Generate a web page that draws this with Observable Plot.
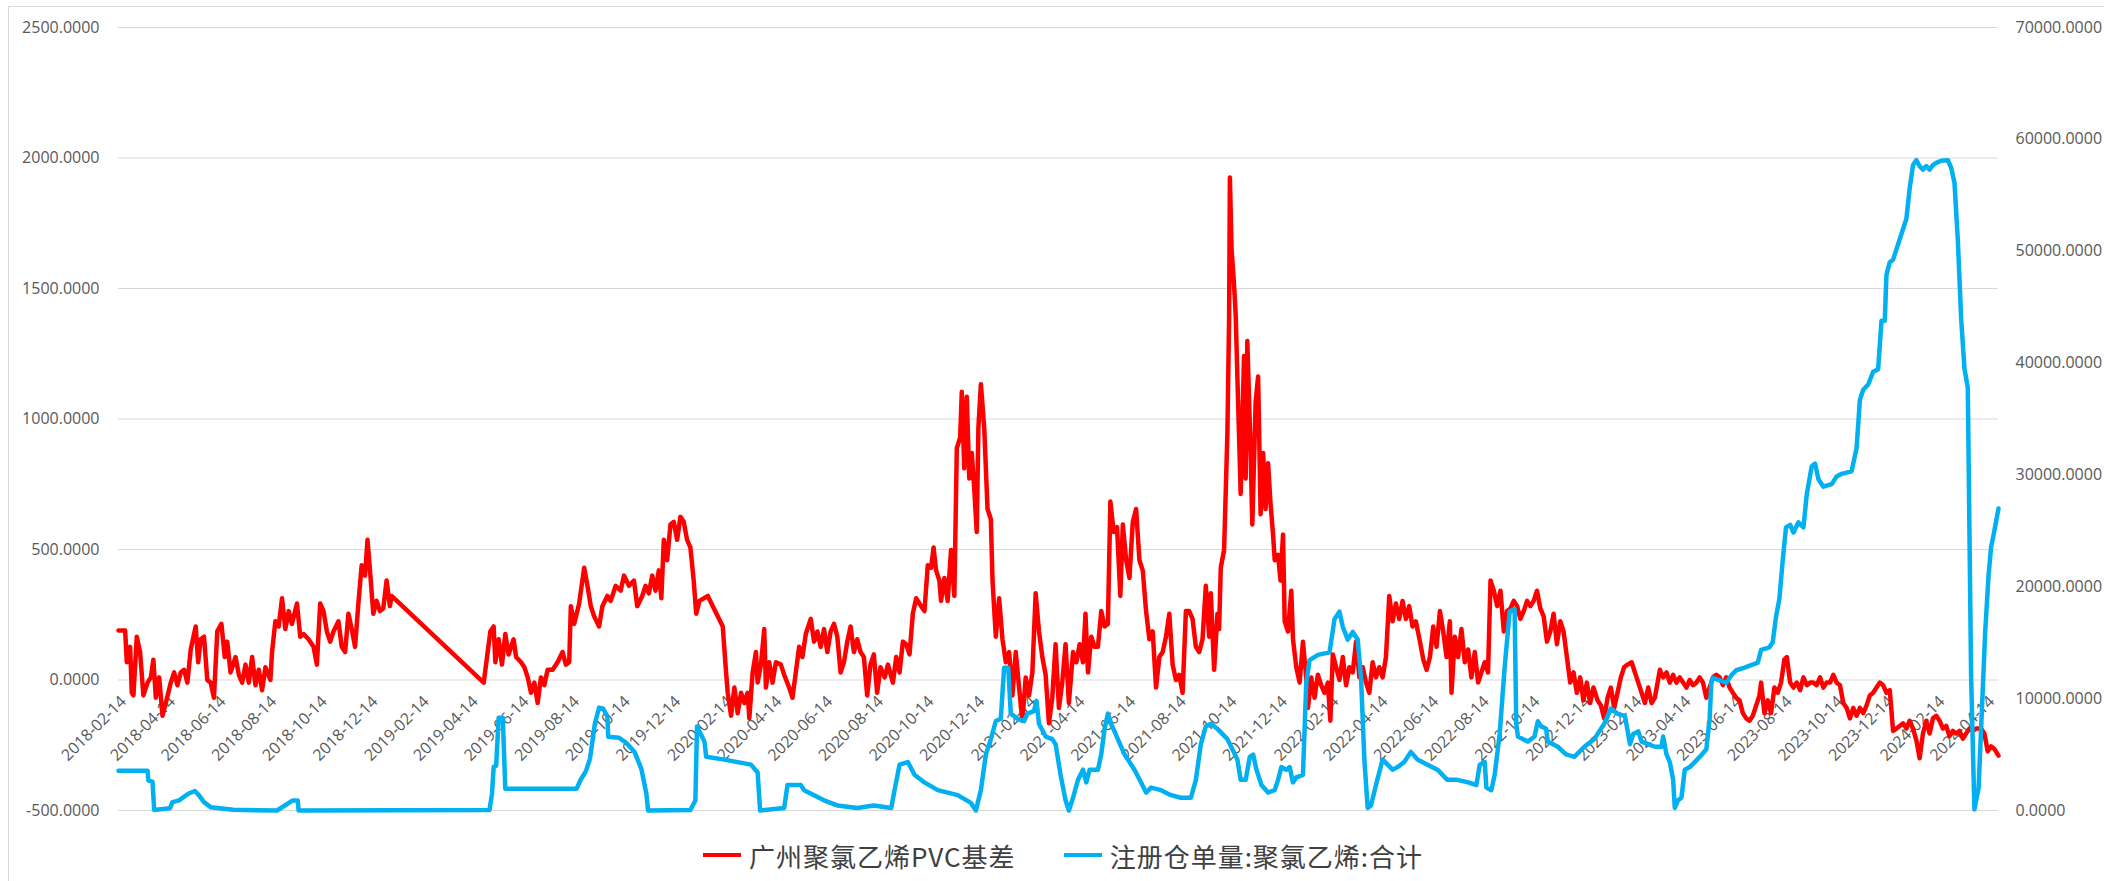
<!DOCTYPE html>
<html><head><meta charset="utf-8">
<script src="https://cdn.jsdelivr.net/npm/d3@7"></script>
<script src="https://cdn.jsdelivr.net/npm/@observablehq/plot@0.6"></script>
<style>
html,body{margin:0;padding:0;background:#fff;overflow:hidden;}
#wrap{position:relative;width:2104px;height:881px;overflow:hidden;}
#frame{position:absolute;left:8px;top:6px;width:2120px;height:900px;border:1px solid #d9d9d9;box-sizing:border-box;}
#chart{position:absolute;left:0;top:0;}
#legend{position:absolute;left:0;top:830px;width:2104px;height:50px;display:flex;align-items:center;justify-content:center;padding-left:22px;box-sizing:border-box;font-family:"Noto Sans CJK SC",sans-serif;font-size:26px;color:#404040;letter-spacing:1px;}
.item{display:flex;align-items:center;margin:0 24px;}
.sw{display:inline-block;width:38px;height:4px;margin-right:8px;}
</style></head>
<body><div id="wrap"><div id="frame"></div><div id="chart"></div>
<div id="legend"></div></div>
<script>
const seriesNames = ["广州聚氯乙烯PVC基差", "注册仓单量:聚氯乙烯:合计"];
const seriesColors = ["#ff0000", "#00b0f0"];
const leftTicks = [-500, 0, 500, 1000, 1500, 2000, 2500];
const rightTicks = [0, 10000, 20000, 30000, 40000, 50000, 60000, 70000];
const xTickLabels = ["2018-02-14","2018-04-14","2018-06-14","2018-08-14","2018-10-14","2018-12-14",
"2019-02-14","2019-04-14","2019-06-14","2019-08-14","2019-10-14","2019-12-14",
"2020-02-14","2020-04-14","2020-06-14","2020-08-14","2020-10-14","2020-12-14",
"2021-02-14","2021-04-14","2021-06-14","2021-08-14","2021-10-14","2021-12-14",
"2022-02-14","2022-04-14","2022-06-14","2022-08-14","2022-10-14","2022-12-14",
"2023-02-14","2023-04-14","2023-06-14","2023-08-14","2023-10-14","2023-12-14",
"2024-02-14","2024-04-14"];

const basisSeries = [["2018-02-14",190],["2018-02-22",190],["2018-02-24",68],["2018-02-28",127],["2018-03-02",-49],["2018-03-04",-59],["2018-03-08",166],["2018-03-12",107],["2018-03-16",-59],["2018-03-21",-10],["2018-03-25",10],["2018-03-28",78],["2018-03-31",-68],["2018-04-04",10],["2018-04-08",-137],["2018-04-12",-88],["2018-04-18",-10],["2018-04-22",29],["2018-04-26",-20],["2018-04-30",29],["2018-05-04",39],["2018-05-08",-10],["2018-05-12",117],["2018-05-18",205],["2018-05-21",68],["2018-05-24",156],["2018-05-28",166],["2018-06-01",0],["2018-06-05",-10],["2018-06-09",-68],["2018-06-13",186],["2018-06-18",215],["2018-06-22",88],["2018-06-25",147],["2018-06-29",29],["2018-07-05",88],["2018-07-09",20],["2018-07-13",-10],["2018-07-17",59],["2018-07-21",-10],["2018-07-25",88],["2018-07-29",-20],["2018-08-02",39],["2018-08-06",-39],["2018-08-10",49],["2018-08-16",0],["2018-08-18",107],["2018-08-22",225],["2018-08-26",205],["2018-08-30",313],["2018-09-03",195],["2018-09-07",264],["2018-09-11",215],["2018-09-17",293],["2018-09-21",166],["2018-09-25",176],["2018-10-01",156],["2018-10-07",127],["2018-10-11",59],["2018-10-15",293],["2018-10-19",264],["2018-10-23",186],["2018-10-27",147],["2018-10-31",186],["2018-11-06",225],["2018-11-10",127],["2018-11-14",107],["2018-11-18",254],["2018-11-22",195],["2018-11-26",127],["2018-11-30",293],["2018-12-04",440],["2018-12-08",400],["2018-12-11",537],["2018-12-14",420],["2018-12-18",254],["2018-12-22",303],["2018-12-26",264],["2018-12-30",274],["2019-01-03",381],["2019-01-07",283],["2019-01-09",322],["2019-04-30",-10],
["2019-05-08",186],["2019-05-12",205],["2019-05-14",68],["2019-05-18",156],["2019-05-22",59],["2019-05-26",176],["2019-05-30",98],["2019-06-05",156],["2019-06-08",88],["2019-06-14",68],["2019-06-18",49],["2019-06-22",10],["2019-06-26",-49],["2019-06-30",-10],["2019-07-04",-88],["2019-07-08",10],["2019-07-12",-20],["2019-07-16",39],["2019-07-22",39],["2019-07-28",68],["2019-08-03",107],["2019-08-07",59],["2019-08-11",68],["2019-08-13",283],["2019-08-17",215],["2019-08-23",293],["2019-08-29",430],["2019-09-02",361],["2019-09-06",283],["2019-09-10",244],["2019-09-16",205],["2019-09-20",283],["2019-09-26",322],["2019-09-30",303],["2019-10-06",361],["2019-10-12",342],["2019-10-16",400],["2019-10-22",361],["2019-10-28",381],["2019-11-01",283],["2019-11-07",322],["2019-11-11",361],["2019-11-15",332],["2019-11-19",400],["2019-11-23",342],["2019-11-27",420],["2019-11-30",313],["2019-12-03",537],["2019-12-07",459],["2019-12-11",596],["2019-12-15",606],["2019-12-19",537],["2019-12-23",625],["2019-12-27",606],["2019-12-31",537],
["2020-01-04",508],["2020-01-08",381],["2020-01-11",254],["2020-01-15",303],["2020-01-25",322],["2020-01-31",283],["2020-02-06",244],["2020-02-12",205],["2020-02-16",29],["2020-02-18",-49],["2020-02-22",-137],["2020-02-26",-29],["2020-03-01",-127],["2020-03-05",-49],["2020-03-09",-88],["2020-03-13",-49],["2020-03-15",-147],["2020-03-19",29],["2020-03-23",107],["2020-03-25",-10],["2020-03-29",59],["2020-04-02",195],["2020-04-04",-29],["2020-04-08",68],["2020-04-12",-10],["2020-04-16",68],["2020-04-22",59],["2020-04-26",20],["2020-05-02",-29],["2020-05-06",-68],["2020-05-10",29],["2020-05-14",127],["2020-05-18",88],["2020-05-22",176],["2020-05-28",234],["2020-06-01",147],["2020-06-05",186],["2020-06-09",127],["2020-06-13",195],["2020-06-17",107],["2020-06-21",186],["2020-06-25",215],["2020-06-29",166],["2020-07-03",29],["2020-07-07",68],["2020-07-11",147],["2020-07-15",205],["2020-07-19",107],["2020-07-23",156],["2020-07-27",107],["2020-07-31",88],["2020-08-04",-59],["2020-08-08",59],["2020-08-12",98],["2020-08-16",-49],["2020-08-20",49],["2020-08-25",10],["2020-08-29",59],["2020-09-04",-10],["2020-09-08",88],["2020-09-12",29],["2020-09-16",147],["2020-09-20",137],["2020-09-24",98],["2020-09-28",254],["2020-10-02",313],["2020-10-08",283],["2020-10-12",264],["2020-10-16",440],["2020-10-20",430],["2020-10-23",508],["2020-10-26",420],["2020-10-30",381],["2020-11-01",303],["2020-11-05",391],["2020-11-09",303],["2020-11-13",498],["2020-11-17",322],["2020-11-20",889],["2020-11-24",928],["2020-11-26",1104],["2020-11-29",811],["2020-12-02",1085],["2020-12-05",772],["2020-12-08",870],["2020-12-11",733],["2020-12-14",567],["2020-12-16",967],["2020-12-19",1133],["2020-12-23",967],["2020-12-27",655],["2020-12-31",616],
["2021-01-02",381],["2021-01-06",166],["2021-01-10",313],["2021-01-14",156],["2021-01-18",68],["2021-01-22",107],["2021-01-26",-59],["2021-01-30",107],["2021-02-03",-29],["2021-02-07",-156],["2021-02-11",10],["2021-02-15",-59],["2021-02-19",29],["2021-02-23",332],["2021-02-27",186],["2021-03-03",88],["2021-03-07",20],["2021-03-11",-166],["2021-03-15",-68],["2021-03-19",137],["2021-03-23",-107],["2021-03-27",-10],["2021-03-31",137],["2021-04-04",-88],["2021-04-09",107],["2021-04-13",68],["2021-04-17",137],["2021-04-21",68],["2021-04-24",254],["2021-04-27",29],["2021-05-01",166],["2021-05-05",127],["2021-05-09",127],["2021-05-13",264],["2021-05-17",205],["2021-05-21",215],["2021-05-24",684],["2021-05-28",567],["2021-06-01",586],["2021-06-05",322],["2021-06-08",596],["2021-06-12",459],["2021-06-16",391],["2021-06-20",606],["2021-06-24",655],["2021-06-28",459],["2021-07-02",420],["2021-07-06",264],["2021-07-10",156],["2021-07-14",186],["2021-07-18",-29],["2021-07-22",88],["2021-07-26",107],["2021-07-30",166],["2021-08-03",254],["2021-08-07",59],["2021-08-11",0],["2021-08-15",20],["2021-08-19",-49],["2021-08-23",264],["2021-08-27",264],["2021-08-31",234],["2021-09-04",127],["2021-09-08",107],["2021-09-12",156],["2021-09-16",361],["2021-09-20",166],["2021-09-22",332],["2021-09-26",39],["2021-09-30",254],["2021-10-02",195],["2021-10-04",430],["2021-10-08",498],["2021-10-12",948],["2021-10-14",1378],["2021-10-15",1925],["2021-10-17",1651],["2021-10-20",1514],["2021-10-22",1397],["2021-10-24",1163],["2021-10-28",713],["2021-11-01",1241],["2021-11-03",772],["2021-11-05",1299],["2021-11-09",870],["2021-11-11",596],["2021-11-15",1065],["2021-11-18",1163],["2021-11-21",635],["2021-11-24",870],["2021-11-27",655],["2021-11-30",830],["2021-12-03",674],["2021-12-06",557],["2021-12-08",459],["2021-12-12",479],["2021-12-15",381],["2021-12-18",557],["2021-12-20",225],["2021-12-24",186],["2021-12-28",342],["2021-12-30",156],
["2022-01-03",49],["2022-01-07",-10],["2022-01-11",147],["2022-01-15",10],["2022-01-17",-107],["2022-01-21",10],["2022-01-25",-68],["2022-01-29",20],["2022-02-02",-20],["2022-02-06",-49],["2022-02-10",-10],["2022-02-13",-156],["2022-02-16",98],["2022-02-20",49],["2022-02-24",0],["2022-02-28",88],["2022-03-04",-20],["2022-03-08",49],["2022-03-12",29],["2022-03-16",147],["2022-03-20",10],["2022-03-24",49],["2022-03-28",-10],["2022-04-01",-49],["2022-04-05",68],["2022-04-09",10],["2022-04-13",49],["2022-04-17",10],["2022-04-21",88],["2022-04-25",322],["2022-04-29",225],["2022-05-03",293],["2022-05-07",234],["2022-05-11",303],["2022-05-15",234],["2022-05-19",283],["2022-05-23",205],["2022-05-27",225],["2022-06-01",147],["2022-06-05",78],["2022-06-09",39],["2022-06-13",88],["2022-06-17",205],["2022-06-21",127],["2022-06-25",264],["2022-06-29",186],["2022-07-03",88],["2022-07-07",225],["2022-07-09",-49],["2022-07-13",166],["2022-07-17",88],["2022-07-21",195],["2022-07-25",68],["2022-07-29",117],["2022-08-02",10],["2022-08-06",107],["2022-08-10",-10],["2022-08-14",29],["2022-08-18",68],["2022-08-22",29],["2022-08-25",381],["2022-08-29",342],["2022-09-02",283],["2022-09-06",342],["2022-09-10",186],["2022-09-14",264],["2022-09-18",274],["2022-09-22",303],["2022-09-26",283],["2022-09-30",234],["2022-10-04",264],["2022-10-08",303],["2022-10-12",283],["2022-10-16",303],["2022-10-20",342],["2022-10-24",274],["2022-10-28",244],["2022-11-01",147],["2022-11-05",186],["2022-11-09",254],["2022-11-13",137],["2022-11-17",225],["2022-11-21",186],["2022-11-25",88],["2022-11-29",-10],["2022-12-03",29],["2022-12-07",-49],["2022-12-11",10],["2022-12-15",-78],["2022-12-19",-10],["2022-12-23",-88],["2022-12-27",-29],
["2023-01-01",-78],["2023-01-05",-98],["2023-01-09",-147],["2023-01-13",-68],["2023-01-17",-29],["2023-01-21",-107],["2023-01-25",-49],["2023-01-29",10],["2023-02-02",49],["2023-02-06",59],["2023-02-11",68],["2023-02-15",29],["2023-02-19",-10],["2023-02-23",-49],["2023-02-27",-88],["2023-03-03",-29],["2023-03-07",-88],["2023-03-11",-68],["2023-03-17",39],["2023-03-21",10],["2023-03-25",29],["2023-03-29",-10],["2023-04-02",20],["2023-04-06",-10],["2023-04-10",10],["2023-04-14",-10],["2023-04-18",-29],["2023-04-22",0],["2023-04-26",-20],["2023-04-30",-10],["2023-05-04",10],["2023-05-08",-10],["2023-05-12",-68],["2023-05-16",-29],["2023-05-20",10],["2023-05-24",20],["2023-05-28",10],["2023-06-01",-20],["2023-06-05",10],["2023-06-09",-29],["2023-06-13",-49],["2023-06-17",-68],["2023-06-21",-78],["2023-06-25",-127],["2023-06-29",-147],["2023-07-03",-156],["2023-07-07",-137],["2023-07-11",-98],["2023-07-15",-59],["2023-07-17",-10],["2023-07-21",-127],["2023-07-25",-78],["2023-07-29",-127],["2023-08-02",-29],["2023-08-06",-49],["2023-08-10",-10],["2023-08-14",78],["2023-08-17",88],["2023-08-21",-10],["2023-08-25",-29],["2023-08-29",-10],["2023-09-02",-39],["2023-09-06",10],["2023-09-10",-20],["2023-09-14",-10],["2023-09-18",-10],["2023-09-22",-20],["2023-09-26",10],["2023-09-30",-29],["2023-10-04",-10],["2023-10-08",-10],["2023-10-12",20],["2023-10-16",-10],["2023-10-20",-20],["2023-10-24",-88],["2023-10-28",-107],["2023-11-01",-147],["2023-11-05",-107],["2023-11-09",-137],["2023-11-13",-107],["2023-11-17",-127],["2023-11-21",-98],["2023-11-25",-59],["2023-11-29",-49],["2023-12-03",-29],["2023-12-07",-10],["2023-12-11",-20],["2023-12-15",-49],["2023-12-19",-39],["2023-12-23",-195],["2023-12-27",-186],["2023-12-31",-176],
["2024-01-04",-166],["2024-01-08",-186],["2024-01-12",-156],["2024-01-16",-186],["2024-01-20",-230],["2024-01-24",-300],["2024-01-28",-205],["2024-02-01",-156],["2024-02-05",-205],["2024-02-09",-147],["2024-02-13",-137],["2024-02-17",-156],["2024-02-21",-186],["2024-02-25",-176],["2024-02-29",-215],["2024-03-04",-195],["2024-03-08",-205],["2024-03-12",-195],["2024-03-16",-225],["2024-03-20",-205],["2024-03-24",-186],["2024-03-28",-195],["2024-04-01",-186],["2024-04-07",-186],["2024-04-11",-205],["2024-04-15",-273],["2024-04-19",-254],["2024-04-23",-264],["2024-04-28",-290]];

const receiptSeries = [["2018-02-14",3550],["2018-03-21",3550],["2018-03-22",2700],["2018-03-27",2560],["2018-03-29",50],["2018-04-17",210],["2018-04-20",750],["2018-04-28",900],["2018-05-09",1500],["2018-05-17",1740],["2018-05-22",1350],["2018-05-28",750],["2018-06-05",300],["2018-07-02",60],["2018-08-24",0],["2018-09-12",900],["2018-09-18",900],["2018-09-19",0],["2019-05-07",50],["2019-05-10",1500],["2019-05-12",3900],["2019-05-15",4000],["2019-05-18",8300],["2019-05-23",8300],["2019-05-26",1950],["2019-08-20",1950],["2019-08-25",2770],["2019-08-31",3500],["2019-09-05",4600],["2019-09-11",7800],["2019-09-16",9200],["2019-09-21",9100],["2019-09-26",8400],["2019-09-27",6600],["2019-10-10",6500],["2019-10-18",6100],["2019-10-29",5200],["2019-11-06",3700],["2019-11-12",1500],["2019-11-14",0],
["2020-01-04",50],["2020-01-10",900],["2020-01-12",7500],["2020-01-21",6150],["2020-01-23",4800],["2020-02-14",4550],["2020-03-17",4100],["2020-03-25",3400],["2020-03-28",0],["2020-04-26",230],["2020-04-30",2280],["2020-05-16",2280],["2020-05-20",1820],["2020-06-13",910],["2020-06-29",450],["2020-07-23",230],["2020-08-12",450],["2020-09-02",230],["2020-09-06",1820],["2020-09-12",4100],["2020-09-22",4330],["2020-09-30",3190],["2020-10-12",2510],["2020-10-28",1820],["2020-11-21",1370],["2020-12-07",680],["2020-12-13",0],["2020-12-19",1820],["2020-12-25",5020],["2020-12-31",6380],
["2021-01-06",8000],["2021-01-12",8210],["2021-01-16",12770],["2021-01-21",12770],["2021-01-24",8660],["2021-02-01",8210],["2021-02-09",7980],["2021-02-13",8660],["2021-02-21",8890],["2021-02-24",9800],["2021-02-27",7750],["2021-03-07",6610],["2021-03-15",6380],["2021-03-19",5930],["2021-03-25",3190],["2021-03-31",910],["2021-04-04",0],["2021-04-09",1140],["2021-04-15",2740],["2021-04-21",3650],["2021-04-25",2510],["2021-04-29",3650],["2021-05-09",3650],["2021-05-13",5020],["2021-05-17",7300],["2021-05-21",8660],["2021-05-25",7750],["2021-06-02",6380],["2021-06-10",5020],["2021-06-22",3650],["2021-06-30",2510],["2021-07-06",1600],["2021-07-12",2050],["2021-07-24",1820],["2021-08-05",1370],["2021-08-17",1140],["2021-08-29",1140],["2021-09-04",2740],["2021-09-10",5930],["2021-09-16",7520],["2021-09-22",7750],["2021-09-30",7300],["2021-10-12",6380],["2021-10-24",4560],["2021-10-28",2740],["2021-11-03",2740],["2021-11-08",4800],["2021-11-12",5000],["2021-11-16",3650],["2021-11-22",2280],["2021-11-30",1600],["2021-12-08",1820],["2021-12-12",2740],["2021-12-16",3880],["2021-12-22",3650],["2021-12-26",3880],["2021-12-30",2510],
["2022-01-03",2960],["2022-01-11",3190],["2022-01-15",11400],["2022-01-19",13450],["2022-01-29",13910],["2022-02-12",14140],["2022-02-18",17100],["2022-02-24",17780],["2022-02-28",16420],["2022-03-06",15280],["2022-03-12",15960],["2022-03-18",15280],["2022-03-22",11860],["2022-03-26",4560],["2022-03-30",230],["2022-04-03",450],["2022-04-09",2280],["2022-04-17",4560],["2022-04-23",4100],["2022-04-29",3650],["2022-05-05",3880],["2022-05-13",4330],["2022-05-21",5240],["2022-05-29",4560],["2022-06-10",4100],["2022-06-22",3650],["2022-07-04",2740],["2022-07-16",2740],["2022-07-29",2510],["2022-08-08",2280],["2022-08-12",4100],["2022-08-18",4330],["2022-08-20",2050],["2022-08-26",1820],["2022-08-30",3190],["2022-09-05",6840],["2022-09-11",12770],["2022-09-17",17780],["2022-09-23",18010],["2022-09-25",7750],["2022-09-27",6610],["2022-10-09",6160],["2022-10-17",6610],["2022-10-21",7980],["2022-10-25",7520],["2022-10-31",7300],["2022-11-02",6160],["2022-11-14",5700],["2022-11-24",5020],["2022-12-04",4790],["2022-12-16",5700],["2022-12-28",6380],
["2023-01-09",7750],["2023-01-17",9120],["2023-01-25",8660],["2023-02-03",8440],["2023-02-09",5930],["2023-02-13",6840],["2023-02-19",7070],["2023-02-23",6160],["2023-03-03",5930],["2023-03-11",5700],["2023-03-19",5700],["2023-03-21",6610],["2023-03-25",5020],["2023-03-29",4330],["2023-04-02",2740],["2023-04-04",230],["2023-04-08",910],["2023-04-12",1140],["2023-04-16",3650],["2023-04-22",3880],["2023-04-28",4330],["2023-05-04",4790],["2023-05-12",5470],["2023-05-16",8210],["2023-05-18",11400],["2023-05-20",11860],["2023-05-28",11630],["2023-06-05",11400],["2023-06-11",12080],["2023-06-17",12540],["2023-06-27",12770],["2023-07-05",13000],["2023-07-13",13220],["2023-07-17",14360],["2023-07-27",14590],["2023-07-31",15050],["2023-08-04",17330],["2023-08-08",18920],["2023-08-12",22340],["2023-08-16",25310],["2023-08-21",25540],["2023-08-25",24850],["2023-08-31",25760],["2023-09-06",25310],["2023-09-10",28270],["2023-09-16",30780],["2023-09-20",31010],["2023-09-24",29640],["2023-09-30",28950],["2023-10-10",29180],["2023-10-16",29870],["2023-10-22",30100],["2023-11-03",30320],["2023-11-09",32380],["2023-11-13",36710],["2023-11-17",37620],["2023-11-23",38080],["2023-11-29",39220],["2023-12-05",39440],["2023-12-09",43780],["2023-12-13",43780],["2023-12-15",47880],["2023-12-19",49020],["2023-12-23",49250],["2023-12-27",50160],["2023-12-31",51070],
["2024-01-04",51980],["2024-01-08",52900],["2024-01-12",55630],["2024-01-16",57680],["2024-01-20",58140],["2024-01-24",57600],["2024-01-28",57300],["2024-02-01",57600],["2024-02-05",57300],["2024-02-09",57700],["2024-02-13",57900],["2024-02-19",58090],["2024-02-27",58140],["2024-03-02",57460],["2024-03-06",56090],["2024-03-10",51000],["2024-03-14",44000],["2024-03-18",39500],["2024-03-22",37800],["2024-03-24",25000],["2024-03-26",12000],["2024-03-29",3000],["2024-03-30",100],["2024-04-04",2000],["2024-04-08",9000],["2024-04-12",16000],["2024-04-16",21000],["2024-04-19",23500],["2024-04-23",25000],["2024-04-28",27000]];

const parse = d3.utcParse("%Y-%m-%d");
const leftMin = -500, leftMax = 2500, rightMax = 70000;
const toLeft = v => leftMin + v / rightMax * (leftMax - leftMin);
const toRight = v => (v - leftMin) / (leftMax - leftMin) * rightMax;

const basis = basisSeries.map(([d, v]) => ({date: parse(d), value: v}));
const receipts = receiptSeries.map(([d, v]) => ({date: parse(d), value: v}));

const chart = Plot.plot({
  width: 2104,
  height: 826,
  marginLeft: 118,
  marginRight: 106,
  marginTop: 27,
  marginBottom: 16,
  style: {background: "transparent", fontFamily: "'Open Sans', sans-serif", fontSize: "16px", color: "#595959", overflow: "visible"},
  x: {type: "utc", domain: [basis[0].date, basis[basis.length - 1].date], axis: null},
  y: {domain: [leftMin, leftMax], axis: null},
  marks: [
    Plot.ruleY(leftTicks, {stroke: "#d9d9d9", strokeWidth: 1}),
    Plot.axisY(leftTicks, {anchor: "left", label: null, tickSize: 0, tickPadding: 19, tickFormat: d => d.toFixed(4), fontSize: 16}),
    Plot.axisY(rightTicks.map(toLeft), {anchor: "right", label: null, tickSize: 0, tickPadding: 17, tickFormat: d => toRight(d).toFixed(4), fontSize: 16}),
    Plot.text(xTickLabels, {x: d => parse(d), y: 0, text: d => d, rotate: -45, textAnchor: "end", dx: 5, dy: 19, fontSize: 16, fill: "#595959"}),
    Plot.line(basis, {x: "date", y: "value", stroke: seriesColors[0], strokeWidth: 4.5, strokeLinejoin: "round"}),
    Plot.line(receipts, {x: "date", y: d => toLeft(d.value), stroke: seriesColors[1], strokeWidth: 4.5, strokeLinejoin: "round"})
  ]
});
document.getElementById("chart").appendChild(chart);

const legend = document.getElementById("legend");
seriesNames.forEach((name, i) => {
  const item = document.createElement("div");
  item.className = "item";
  const sw = document.createElement("span");
  sw.className = "sw";
  sw.style.background = seriesColors[i];
  const t = document.createElement("span");
  t.textContent = name;
  item.appendChild(sw);
  item.appendChild(t);
  legend.appendChild(item);
});
</script>
</body></html>
